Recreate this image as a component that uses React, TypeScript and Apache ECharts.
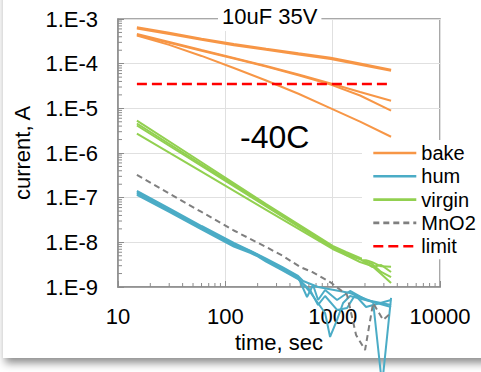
import { useEffect, useRef } from 'react';
import * as echarts from 'echarts';

const FONT = '"Liberation Sans", Arial, sans-serif';

// ---- tick labels / axis ranges ----
const xTickValues = [10, 100, 1000, 10000];
const yExponents = [-9, -8, -7, -6, -5, -4, -3];

// ---- bake (orange) ----
const bakeTime = [15, 30, 60, 120, 240, 480, 960, 1800, 3500];
const bake1 = [6.5e-4, 4.9e-4, 3.6e-4, 2.75e-4, 2.15e-4, 1.7e-4, 1.35e-4, 1.0e-4, 7.3e-5];
const bake2 = [6.2e-4, 4.65e-4, 3.45e-4, 2.6e-4, 2.05e-4, 1.62e-4, 1.28e-4, 9.5e-5, 6.95e-5];
const bake3 = [4.61e-4, 3.05e-4, 2.02e-4, 1.34e-4, 8.87e-5, 5.73e-5, 3.6e-5, 2.32e-5, 1.48e-5];
const bake4 = [4.4e-4, 2.95e-4, 1.95e-4, 1.3e-4, 8.6e-5, 5.5e-5, 3.4e-5, 1.94e-5, 8.85e-6];
const bake5 = [4.28e-4, 2.63e-4, 1.49e-4, 8.0e-5, 4.2e-5, 2.12e-5, 1.0e-5, 5.02e-6, 2.31e-6];

// ---- virgin (green) ----
const virginTime = [15, 60, 240, 1000, 1330, 1800, 2330, 2830, 3500];
const virgin1 = [5.3e-6, 6.2e-7, 7.2e-8, 8.3e-9, 6.1e-9, 4.5e-9, 3.6e-9, 2.9e-9, 2.85e-9];
const virgin2 = [4.58e-6, 5.58e-7, 6.79e-8, 7.87e-9, 5.21e-9, 4.24e-9, 2.81e-9, 3.11e-9, 2.17e-9];
const virgin3 = [4.13e-6, 5.12e-7, 6.38e-8, 7.48e-9, 5.78e-9, 4.24e-9, 3.27e-9, 2.17e-9, 1.67e-9];
const virgin4 = [2.73e-6, 3.82e-7, 5.36e-8, 7.1e-9, 5.21e-9, 3.63e-9, 2.96e-9, 1.96e-9, 1.23e-9];

// ---- hum (blue) ----
const hum1Time = [15, 30, 60, 120, 170, 202, 240, 337, 476, 530, 731, 1453, 2381, 3500];
const hum1 = [1.41e-7, 5.73e-8, 2.32e-8, 9.66e-9, 6.5e-9, 5.3e-9, 4.3e-9, 2.81e-9, 1.77e-9, 1.36e-9, 1.0e-9, 7.35e-10, 4.62e-10, 3.57e-10];
const hum2Time = [15, 30, 60, 120, 170, 202, 240, 337, 476, 577, 657, 731, 850, 1099, 1453, 2048, 3500];
const hum2 = [1.31e-7, 5.3e-8, 2.15e-8, 8.95e-9, 6.4e-9, 5.2e-9, 4.1e-9, 2.6e-9, 1.67e-9, 5.98e-10, 1.11e-9, 5.12e-10, 8.57e-10, 5.12e-10, 8.15e-10, 5.12e-10, 3.96e-10];
const hum3Time = [15, 30, 60, 120, 170, 202, 240, 337, 476, 616, 850, 946, 1099, 1250, 1453, 2381, 2887, 3500];
const hum3 = [1.24e-7, 5.04e-8, 2.04e-8, 8.51e-9, 6.1e-9, 5.1e-9, 3.9e-9, 2.53e-9, 1.59e-9, 7.73e-10, 2.62e-10, 7.6e-11, 1.83e-10, 4.39e-10, 6.29e-10, 4.62e-10, 6.41e-12, 5.68e-10];
const hum4Time = [15, 30, 60, 120, 170, 202, 240, 337, 476, 616, 731, 850, 1099, 1362, 1617, 2048, 3500];
const hum4 = [1.15e-7, 4.78e-8, 1.94e-8, 8.07e-9, 5.8e-9, 4.8e-9, 3.7e-9, 2.4e-9, 1.51e-9, 8.57e-10, 3.96e-10, 6.29e-10, 3.06e-10, 3.39e-10, 6.62e-10, 3.57e-10, 5.12e-10];

// ---- MnO2 (gray dashed) ----
const mno2Time = [15, 30, 60, 120, 240, 345, 497, 643, 946, 1362, 1652, 2004, 2381, 2951, 3500];
const mno2 = [3.22e-7, 1.24e-7, 4.78e-8, 1.84e-8, 7.87e-9, 4.94e-9, 2.81e-9, 2.17e-9, 1.29e-9, 6.62e-10, 8.43e-11, 3.89e-11, 4.39e-10, 1.83e-10, 2.62e-10];

// ---- limit (red dashed) ----
const limitTime = [15, 3500];
const limit = [3.5e-5, 3.5e-5];

const legendNames = ['bake', 'hum', 'virgin', 'MnO2', 'limit'];

const ORANGE = '#F79646';
const BLUE = '#4BACC6';
const GREEN = '#92D050';
const GRAY = '#7F7F7F';
const RED = '#FF0000';
const AXIS = '#8c8c8c';

function lineSeries(name: string, color: string, t: number[], v: number[], width: number, dash?: number[]) {
  return {
    type: 'line',
    name,
    data: t.map((x, i) => [x, v[i]]),
    showSymbol: false,
    symbol: 'none',
    clip: false,
    silent: true,
    animation: false,
    itemStyle: { color },
    lineStyle: { color, width, type: dash ? dash : 'solid', cap: 'butt' },
    emphasis: { disabled: true },
    z: 3,
  };
}

export default function App() {
  const ref = useRef<HTMLDivElement>(null);
  useEffect(() => {
    if (!ref.current) return;
    const chart = echarts.init(ref.current, null, { renderer: 'svg' });

    const xMin = xTickValues[0];
    const xMax = xTickValues[xTickValues.length - 1];
    const yMin = Math.pow(10, yExponents[0]);
    const yMax = Math.pow(10, yExponents[yExponents.length - 1]);

    const yMinor: number[][] = [];
    for (let e = yExponents[0]; e < yExponents[yExponents.length - 1]; e++) {
      for (let k = 2; k <= 9; k++) yMinor.push([xMin, k * Math.pow(10, e)]);
    }
    const xMinor: number[][] = [];
    for (let e = 1; e < 4; e++) {
      for (let k = 2; k <= 9; k++) xMinor.push([k * Math.pow(10, e), yMin]);
    }

    const option: any = {
      animation: false,
      backgroundColor: 'transparent',
      textStyle: { fontFamily: FONT },
      title: {
        text: '10uF 35V',
        left: 218,
        top: 1,
        padding: [3, 4, 3, 4],
        backgroundColor: '#fff',
        textStyle: { fontSize: 22, fontWeight: 'normal', color: '#000', fontFamily: FONT, lineHeight: 24 },
        z: 10,
      },
      legend: {
        orient: 'vertical',
        left: 362,
        top: 140,
        padding: [3, 10, 3, 10],
        backgroundColor: '#fff',
        itemWidth: 43,
        itemHeight: 14,
        itemGap: 3.3,
        selectedMode: false,
        data: legendNames,
        itemStyle: { opacity: 0, borderWidth: 0 },
        lineStyle: { width: 2.6 },
        textStyle: { fontSize: 20, color: '#000', fontFamily: FONT, lineHeight: 20 },
        z: 10,
      },
      grid: {
        left: 118,
        top: 19,
        right: 41,
        bottom: 85,
        show: true,
        borderColor: AXIS,
        borderWidth: 1.5,
        backgroundColor: 'transparent',
      },
      xAxis: {
        type: 'log',
        logBase: 10,
        min: xMin,
        max: xMax,
        splitNumber: 3,
        name: 'time, sec',
        nameLocation: 'middle',
        nameGap: 42,
        nameTextStyle: { fontSize: 22, color: '#000', fontFamily: FONT },
        axisLine: { lineStyle: { color: AXIS, width: 1.5 } },
        axisTick: { show: true, inside: true, length: 6, lineStyle: { color: AXIS } },
        splitLine: { show: true, lineStyle: { color: '#e0e0e0', width: 1 } },
        axisLabel: {
          fontSize: 22,
          color: '#000',
          margin: 18,
          fontFamily: FONT,
          formatter: (v: number) => String(Math.round(v)),
        },
      },
      yAxis: {
        type: 'log',
        logBase: 10,
        min: yMin,
        max: yMax,
        splitNumber: 6,
        name: 'current, A',
        nameLocation: 'middle',
        nameGap: 85,
        nameTextStyle: { fontSize: 22, color: '#000', fontFamily: FONT },
        axisLine: { lineStyle: { color: AXIS, width: 1.5 } },
        axisTick: { show: true, inside: true, length: 6, lineStyle: { color: AXIS } },
        splitLine: { show: true, lineStyle: { color: '#e0e0e0', width: 1 } },
        axisLabel: {
          fontSize: 22,
          color: '#000',
          margin: 20,
          fontFamily: FONT,
          formatter: (v: number) => '1.E' + Math.round(Math.log10(v)),
        },
      },
      graphic: [
        {
          type: 'rect',
          z: -100,
          silent: true,
          shape: { x: 3, y: -20, width: 520, height: 378 },
          style: {
            fill: '#fff',
            shadowBlur: 8,
            shadowOffsetX: 2,
            shadowOffsetY: 5,
            shadowColor: 'rgba(0,0,0,0.45)',
          },
        },
        {
          type: 'text',
          z: 5,
          silent: true,
          x: 240,
          y: 137,
          style: {
            text: '-40C',
            fill: '#000',
            font: '32px "Liberation Sans", Arial, sans-serif',
            align: 'left',
            verticalAlign: 'middle',
          },
        },
      ],
      series: [
        lineSeries('bake', ORANGE, bakeTime, bake1, 2.25),
        lineSeries('bake', ORANGE, bakeTime, bake2, 2.25),
        lineSeries('bake', ORANGE, bakeTime, bake3, 2),
        lineSeries('bake', ORANGE, bakeTime, bake4, 2),
        lineSeries('bake', ORANGE, bakeTime, bake5, 2),
        lineSeries('hum', BLUE, hum1Time, hum1, 2),
        lineSeries('hum', BLUE, hum2Time, hum2, 2),
        lineSeries('hum', BLUE, hum3Time, hum3, 2),
        lineSeries('hum', BLUE, hum4Time, hum4, 2),
        lineSeries('virgin', GREEN, virginTime, virgin1, 2),
        lineSeries('virgin', GREEN, virginTime, virgin2, 2),
        lineSeries('virgin', GREEN, virginTime, virgin3, 2),
        lineSeries('virgin', GREEN, virginTime, virgin4, 2),
        lineSeries('MnO2', GRAY, mno2Time, mno2, 2, [6, 4]),
        lineSeries('limit', RED, limitTime, limit, 2.5, [10, 5]),
        {
          type: 'custom',
          silent: true,
          z: 1,
          clip: false,
          data: yMinor,
          renderItem: (_p: any, api: any) => {
            const pt = api.coord([api.value(0), api.value(1)]);
            return {
              type: 'line',
              shape: { x1: pt[0], y1: pt[1], x2: pt[0] + 4, y2: pt[1] },
              style: { stroke: AXIS, lineWidth: 1 },
            };
          },
        },
        {
          type: 'custom',
          silent: true,
          z: 1,
          clip: false,
          data: xMinor,
          renderItem: (_p: any, api: any) => {
            const pt = api.coord([api.value(0), api.value(1)]);
            return {
              type: 'line',
              shape: { x1: pt[0], y1: pt[1], x2: pt[0], y2: pt[1] - 4 },
              style: { stroke: AXIS, lineWidth: 1 },
            };
          },
        },
      ],
    };
    chart.setOption(option);
    return () => chart.dispose();
  }, []);
  return (
    <div
      ref={ref}
      style={{ position: 'fixed', left: 0, top: 0, width: 481, height: 372, background: '#fff' }}
    />
  );
}
